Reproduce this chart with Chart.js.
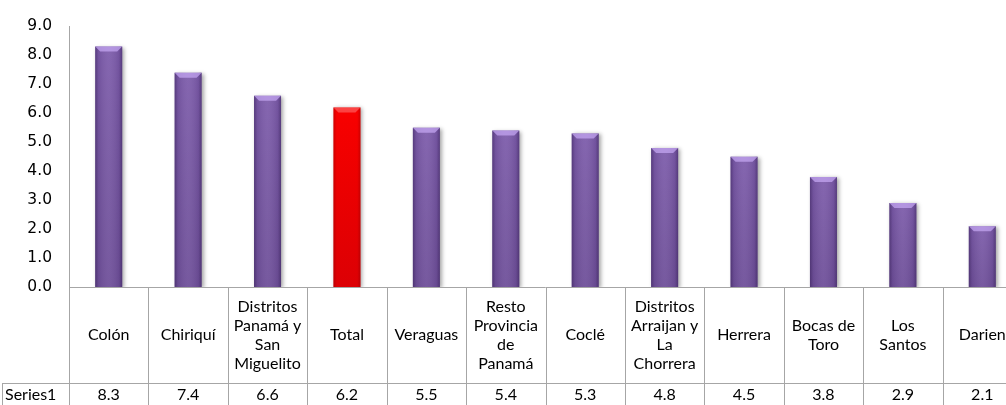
<!DOCTYPE html>
<html>
<head>
<meta charset="utf-8">
<script src="https://cdn.jsdelivr.net/npm/chart.js@4/dist/chart.umd.min.js"></script>
<style>
html, body { margin: 0; padding: 0; background: #fff; overflow: hidden; }
canvas { display: block; }
</style>
</head>
<body>
<canvas id="grafico" width="1022" height="405"></canvas>
<script>
// Datos
var regiones = [
    ['Colón'], ['Chiriquí'], ['Distritos', 'Panamá y', 'San', 'Miguelito'], ['Total'],
    ['Veraguas'], ['Resto', 'Provincia', 'de', 'Panamá'], ['Coclé'],
    ['Distritos', 'Arraijan y', 'La', 'Chorrera'], ['Herrera'], ['Bocas de', 'Toro'],
    ['Los', 'Santos'], ['Darien']
];
var valores = [8.3, 7.4, 6.6, 6.2, 5.5, 5.4, 5.3, 4.8, 4.5, 3.8, 2.9, 2.1];
var nombreSerie = 'Series1';
var marcasY = [0, 1, 2, 3, 4, 5, 6, 7, 8, 9];

var fuenteTabla = '16px Lato';
var colorLinea = '#a6a6a6';

function esTotal(i) {
    return regiones[i][0] == 'Total';
}

// Sombra debajo de las barras
var sombraBarras = {
    id: 'sombraBarras',
    beforeDatasetDraw: function(chart) {
        var ctx = chart.ctx;
        ctx.save();
        ctx.shadowColor = 'rgba(0,0,0,0.35)';
        ctx.shadowBlur = 4;
        ctx.shadowOffsetX = 2;
        ctx.shadowOffsetY = 1;
    },
    afterDatasetDraw: function(chart) {
        chart.ctx.restore();
    }
};

// Relieve: bordes oscuros y bisel claro arriba
var relieveBarras = {
    id: 'relieveBarras',
    afterDatasetsDraw: function(chart) {
        var ctx = chart.ctx;
        var meta = chart.getDatasetMeta(0);
        meta.data.forEach(function(bar, i) {
            var p = bar.getProps(['x', 'y', 'base', 'width'], true);
            var izq = p.x - p.width / 2, der = p.x + p.width / 2;
            var alto = p.base - p.y;
            ctx.save();
            var g = ctx.createLinearGradient(izq, 0, der, 0);
            g.addColorStop(0, 'rgba(40,20,70,0.45)');
            g.addColorStop(0.12, 'rgba(40,20,70,0.12)');
            g.addColorStop(0.5, 'rgba(255,255,255,0.06)');
            g.addColorStop(0.88, 'rgba(40,20,70,0.12)');
            g.addColorStop(1, 'rgba(40,20,70,0.45)');
            if (esTotal(i)) {
                g = ctx.createLinearGradient(izq, 0, der, 0);
                g.addColorStop(0, 'rgba(120,0,0,0.35)');
                g.addColorStop(0.12, 'rgba(120,0,0,0.05)');
                g.addColorStop(0.88, 'rgba(120,0,0,0.05)');
                g.addColorStop(1, 'rgba(120,0,0,0.35)');
            }
            ctx.fillStyle = g;
            ctx.fillRect(izq, p.y, p.width, alto);
            // oscurece hacia la base
            var gv = ctx.createLinearGradient(0, p.y, 0, p.base);
            gv.addColorStop(0, 'rgba(0,0,0,0)');
            gv.addColorStop(1, 'rgba(20,0,40,0.12)');
            ctx.fillStyle = gv;
            ctx.fillRect(izq, p.y, p.width, alto);
            // bisel superior
            var b = 5;
            ctx.beginPath();
            ctx.moveTo(izq, p.y);
            ctx.lineTo(der, p.y);
            ctx.lineTo(der - b, p.y + b);
            ctx.lineTo(izq + b, p.y + b);
            ctx.closePath();
            ctx.fillStyle = esTotal(i) ? 'rgba(255,120,120,0.55)' : 'rgba(200,170,245,0.7)';
            ctx.fill();
            ctx.restore();
        });
    }
};

// Tabla de datos bajo el eje
var tablaDatos = {
    id: 'tablaDatos',
    afterDraw: function(chart) {
        var ctx = chart.ctx;
        var x = chart.scales.x;
        var area = chart.chartArea;
        var ancho = (area.right - area.left) / regiones.length;
        var yEje = area.bottom;
        var yFila = yEje + 96;
        var yFin = chart.height;
        ctx.save();
        ctx.strokeStyle = colorLinea;
        ctx.lineWidth = 1;
        ctx.beginPath();
        ctx.moveTo(area.left, yEje + 0.5);
        ctx.lineTo(area.right, yEje + 0.5);
        ctx.moveTo(2, yFila + 0.5);
        ctx.lineTo(area.right, yFila + 0.5);
        ctx.moveTo(2.5, yFila);
        ctx.lineTo(2.5, yFin);
        for (var k = 0; k <= regiones.length; k++) {
            var xl = Math.round(area.left + k * ancho) + 0.5;
            ctx.moveTo(xl, yEje);
            ctx.lineTo(xl, yFin);
        }
        ctx.stroke();

        ctx.fillStyle = '#000';
        ctx.font = fuenteTabla;
        ctx.textAlign = 'center';
        ctx.textBaseline = 'middle';
        var interlinea = 19;
        regiones.forEach(function(lineas, i) {
            var cx = x.getPixelForValue(i);
            var y0 = (yEje + yFila) / 2 - (lineas.length - 1) * interlinea / 2;
            lineas.forEach(function(t, j) {
                ctx.fillText(t, cx, y0 + j * interlinea);
            });
            ctx.fillText(valores[i].toFixed(1), cx, yFila + 12);
        });
        ctx.textAlign = 'left';
        ctx.fillText(nombreSerie, 5, yFila + 12);
        ctx.restore();
    }
};

var grafico = new Chart(document.getElementById('grafico'), {
    type: 'bar',
    data: {
        labels: regiones,
        datasets: [{
            data: valores,
            backgroundColor: valores.map(function(v, i) { return esTotal(i) ? '#ff0000' : '#7d5cab'; }),
            borderWidth: 0,
            categoryPercentage: 1,
            barPercentage: 0.34
        }]
    },
    options: {
        responsive: false,
        animation: false,
        layout: { padding: { top: 20, bottom: 118, left: 0, right: 0 } },
        plugins: {
            legend: { display: false },
            tooltip: { enabled: false }
        },
        scales: {
            x: { display: false },
            y: {
                min: 0,
                max: 9,
                afterBuildTicks: function(scale) {
                    scale.ticks = marcasY.map(function(v) { return { value: v }; });
                },
                afterFit: function(scale) { scale.width = 69; },
                grid: { display: false, drawTicks: false },
                border: { display: true, color: colorLinea },
                ticks: {
                    padding: 17,
                    color: '#000',
                    font: { family: 'DejaVu Sans', size: 15.5 },
                    callback: function(v) { return Number(v).toFixed(1); }
                }
            }
        }
    },
    plugins: [sombraBarras, relieveBarras, tablaDatos]
});
</script>
</body>
</html>
